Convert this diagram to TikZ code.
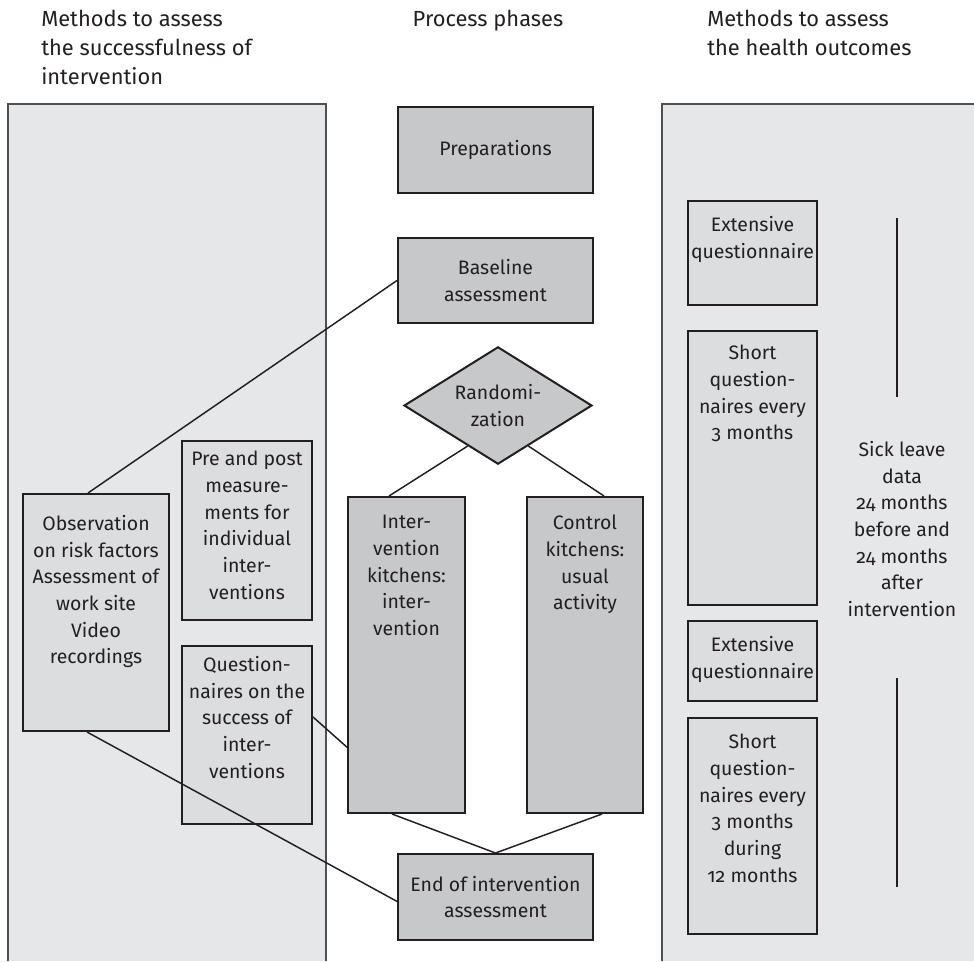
\documentclass[tikz,border=0pt]{standalone}
\usepackage{fontspec}
\setmainfont{Fira Sans}[Numbers=OldStyle]
\usetikzlibrary{shapes.geometric,calc,fit}
\definecolor{panel}{HTML}{E6E7E8}
\definecolor{sub}{HTML}{DCDDDF}
\definecolor{mid}{HTML}{C7C8CA}
\definecolor{ink}{HTML}{231F20}
\definecolor{pline}{HTML}{505052}
\begin{document}
\begin{tikzpicture}[x=0.75pt,y=-0.75pt,
  font=\fontsize{14.6}{20}\selectfont,
  txt/.style={text=ink,align=center,inner sep=0pt},
  hdr/.style={text=ink,align=left,inner sep=0pt,font=\fontsize{16.4}{21.5}\selectfont},
  bx/.style={draw=ink,line width=1.5pt,inner sep=0pt},
  subbox/.style={bx,fill=sub},
  midbox/.style={bx,fill=mid},
  conn/.style={draw=ink,line width=1.1pt},
  pborder/.style={draw=pline,line width=1pt}]
\useasboundingbox (0,0) rectangle (974,961);
% panels
\fill[panel] (8,104) rectangle (326,961);
\draw[pborder] (8,961) -- (8,104) -- (326,104) -- (326,961);
\fill[panel] (662,104) rectangle (974,961);
\draw[pborder] (662,961) -- (662,104) -- (974,104);
% headers
\node[hdr,anchor=north west] (h1) at (41,10) {Methods to assess\\the successfulness of\\intervention};
\node[hdr,anchor=north] (h2) at (488,10) {Process phases};
\node[hdr,anchor=north west] (h3) at (707,10) {Methods to assess\\the health outcomes};
% left boxes
\node[subbox,fit={(23,494)(169,731)}] (obs) {};
\node[subbox,fit={(182,441)(312,620)}] (pre) {};
\node[subbox,fit={(182,646)(312,824)}] (qon) {};
% middle boxes
\node[midbox,fit={(398,107)(593,193)}] (prep) {};
\node[midbox,fit={(398,238)(593,323)}] (base) {};
\node[midbox,diamond,minimum width=141pt,minimum height=88pt] (rand) at (498,405.5) {};
\node[midbox,fit={(348,497)(465,813)}] (int) {};
\node[midbox,fit={(527,497)(643,813)}] (ctl) {};
\node[midbox,fit={(398,854)(593,940)}] (endb) {};
% right boxes
\node[subbox,fit={(688,201)(817,305)}] (ext1) {};
\node[subbox,fit={(688,331)(817,605)}] (sh1) {};
\node[subbox,fit={(688,621)(817,701)}] (ext2) {};
\node[subbox,fit={(688,718)(817,934)}] (sh2) {};
\draw[draw=ink,line width=1.1pt] (897,218) -- (897,397);
\draw[draw=ink,line width=1.1pt] (897,678) -- (897,887);
% texts
\node[txt] (prept) at (prep.center) {Preparations};
\node[txt] (baset) at (base.center) {Baseline\\assessment};
\node[txt] (randt) at (rand.center) {Randomi-\\zation};
\node[txt] (endt) at (endb.center) {End of intervention\\assessment};
\node[txt,anchor=north] (obst) at (96,515) {Observation\\on risk factors\\Assessment of\\work site\\Video\\recordings};
\node[txt,anchor=north] (pret) at (247,451) {Pre and post\\measure-\\ments for\\individual\\inter-\\ventions};
\node[txt,anchor=north] (qont) at (247,656) {Question-\\naires on the\\success of\\inter-\\ventions};
\node[txt,anchor=north] (intt) at (406.5,515) {Inter-\\vention\\kitchens:\\inter-\\vention};
\node[txt,anchor=north] (ctlt) at (585,515) {Control\\kitchens:\\usual\\activity};
\node[txt,anchor=north] (ext1t) at (752.5,216) {Extensive\\questionnaire};
\node[txt,anchor=north] (sh1t) at (752.5,345) {Short\\question-\\naires every\\3 months};
\node[txt,anchor=north] (ext2t) at (752.5,636) {Extensive\\questionnaire};
\node[txt,anchor=north] (sh2t) at (752.5,734) {Short\\question-\\naires every\\3 months\\during\\12 months};
\node[txt,anchor=north] (sick) at (902,441) {Sick leave\\data\\24 months\\before and\\24 months\\after\\intervention};
% connectors
\draw[conn] ($(obs.north west)+(66,0)$) -- (base.west);
\draw[conn] ($(obs.south west)+(65,0)$) -- ($(endb.north west)!0.55!(endb.south west)$);
\draw[conn] ($(qon.north east)!0.4!(qon.south east)$) -- ($(int.north west)!0.79!(int.south west)$);
\draw[conn] ($(rand.west)!0.68!(rand.south)$) -- ($(int.north west)+(42,0)$);
\draw[conn] ($(rand.east)!0.68!(rand.south)$) -- ($(ctl.north west)+(78,0)$);
\draw[conn] ($(int.south west)+(45,0)$) -- (endb.north);
\draw[conn] ($(ctl.south west)+(76,0)$) -- (endb.north);
\end{tikzpicture}
\end{document}
